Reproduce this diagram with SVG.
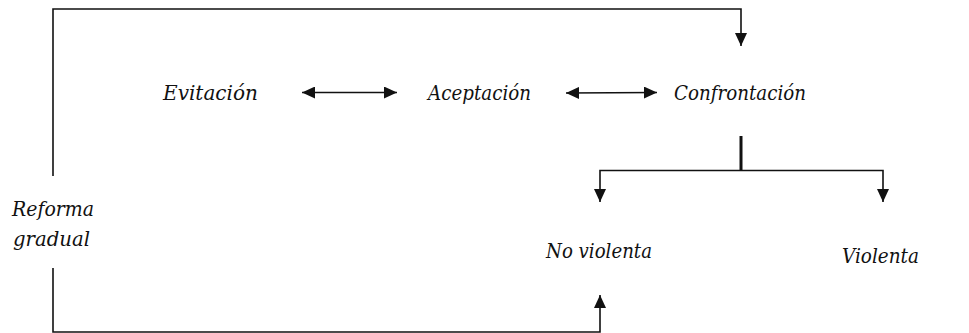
<svg xmlns="http://www.w3.org/2000/svg" width="969" height="333" viewBox="0 0 969 333">
<style>
.c{fill:none;stroke:#111;stroke-width:1.6}
.k{stroke-width:3}
.t{font-family:"DejaVu Serif","Liberation Serif",serif;font-style:italic;font-size:20.5px;fill:#111}
</style>
<defs>
<marker id="ah" viewBox="0 0 13 12" refX="13" refY="6" markerWidth="13" markerHeight="12" markerUnits="userSpaceOnUse" orient="auto-start-reverse">
<path d="M0,0 L13,6 L0,12 z" fill="#111"/>
</marker>
</defs>
<rect width="969" height="333" fill="#fff"/>
<g id="connectors">
<polyline class="c" points="53,176 53,9 741,9 741,46" marker-end="url(#ah)"/>
<polyline class="c" points="53,268 53,332 600,332 600,295" marker-end="url(#ah)"/>
<line class="c" x1="302" y1="92.5" x2="397" y2="92.5" marker-start="url(#ah)" marker-end="url(#ah)"/>
<line class="c" x1="566" y1="93" x2="657" y2="92.5" marker-start="url(#ah)" marker-end="url(#ah)"/>
<line class="c k" x1="741" y1="136" x2="741" y2="171"/>
<polyline class="c" points="600,202 600,170.5 883,170.5 883,202" marker-start="url(#ah)" marker-end="url(#ah)"/>
</g>
<g id="evitacion"><text class="t" x="163" y="100" textLength="95" lengthAdjust="spacingAndGlyphs">Evitación</text></g>
<g id="aceptacion"><text class="t" x="428" y="100" textLength="103" lengthAdjust="spacingAndGlyphs">Aceptación</text></g>
<g id="confrontacion"><text class="t" x="674" y="100" textLength="132" lengthAdjust="spacingAndGlyphs">Confrontación</text></g>
<g id="reforma"><text class="t" x="12" y="216" textLength="82" lengthAdjust="spacingAndGlyphs">Reforma</text><text class="t" x="13" y="246" textLength="77" lengthAdjust="spacingAndGlyphs">gradual</text></g>
<g id="noviolenta"><text class="t" x="546" y="258" textLength="106" lengthAdjust="spacingAndGlyphs">No violenta</text></g>
<g id="violenta"><text class="t" x="842" y="263" textLength="77" lengthAdjust="spacingAndGlyphs">Violenta</text></g>
</svg>
